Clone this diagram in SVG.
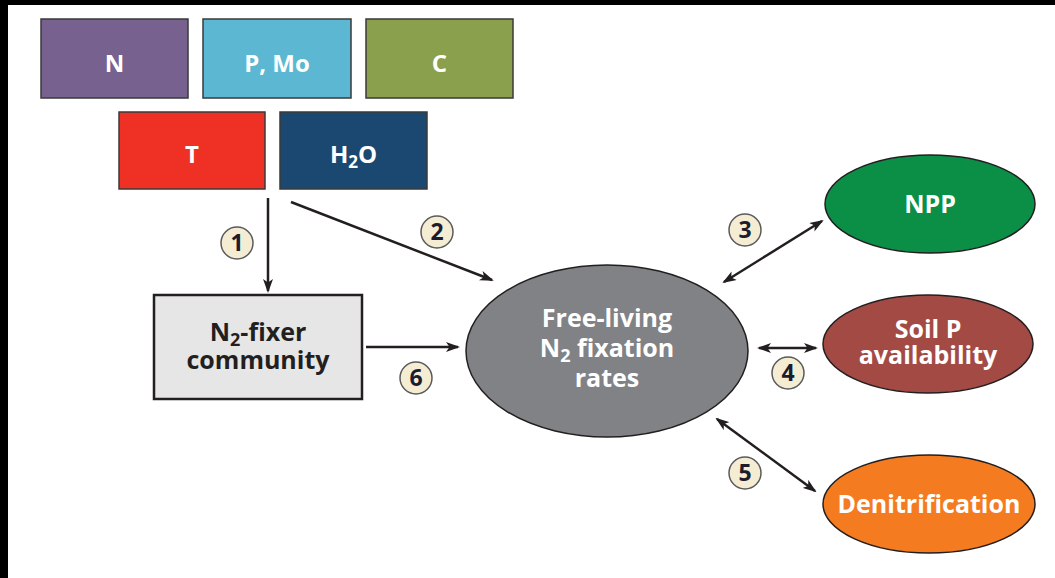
<svg xmlns="http://www.w3.org/2000/svg" width="1055" height="578" viewBox="0 0 1055 578">
<style>
.lbl{font-family:"Open Sans","Liberation Sans",sans-serif;font-weight:700;text-anchor:middle;}
.w{fill:#ffffff;font-size:25px;}
.tw{fill:#ffffff;font-size:24px;}
.dk{fill:#231f20;font-size:25px;}
.box{stroke:#3a3a3a;stroke-width:1.5;}
.ell{stroke:#231f20;stroke-width:1.5;}
.con{stroke:#231f20;stroke-width:2.5;fill:none;}
.num circle{fill:#f4edd3;stroke:#5a5a5a;stroke-width:1.5;}
.num text{font-family:"Open Sans","Liberation Sans",sans-serif;font-weight:700;font-size:23px;fill:#1c1c2e;text-anchor:middle;}
</style>
<defs>
<marker id="ah" viewBox="0 0 14 10" refX="12" refY="5" markerWidth="14" markerHeight="10" markerUnits="userSpaceOnUse" orient="auto-start-reverse">
<path d="M0,0 L14,5 L0,10 L3.5,5 Z" fill="#231f20"/>
</marker>
</defs>
<rect x="0" y="0" width="1055" height="578" fill="#ffffff"/>
<rect x="0" y="0" width="1055" height="5" fill="#000000"/>
<rect x="0" y="0" width="8" height="578" fill="#000000"/>

<g id="node-N"><rect class="box" x="41" y="19" width="147" height="79" fill="#77628f"/><text class="lbl tw" x="114.5" y="72">N</text></g>
<g id="node-PMo"><rect class="box" x="203" y="19" width="148" height="79" fill="#5cb8d2"/><text class="lbl tw" x="277" y="72">P, Mo</text></g>
<g id="node-C"><rect class="box" x="366" y="19" width="147" height="79" fill="#8aa04d"/><text class="lbl tw" x="439.5" y="72">C</text></g>
<g id="node-T"><rect class="box" x="119" y="112" width="146" height="77" fill="#ee3124"/><text class="lbl tw" x="192" y="163">T</text></g>
<g id="node-H2O"><rect class="box" x="280" y="112" width="147" height="77" fill="#1a4870"/><text class="lbl tw" x="353.5" y="163">H<tspan font-size="17" dy="5">2</tspan><tspan dy="-5">O</tspan></text></g>

<g id="node-fixer"><rect x="154" y="295" width="208" height="104" fill="#e6e6e6" stroke="#231f20" stroke-width="2.5"/>
<text class="lbl dk" x="258" y="341">N<tspan font-size="18" dy="5">2</tspan><tspan dy="-5">-fixer</tspan></text>
<text class="lbl dk" x="258" y="369">community</text></g>

<g id="node-rates"><ellipse class="ell" cx="607" cy="351" rx="141" ry="86" fill="#808285"/>
<text class="lbl w" x="607" y="327">Free-living</text>
<text class="lbl w" x="607" y="357">N<tspan font-size="18" dy="5">2</tspan><tspan dy="-5"> fixation</tspan></text>
<text class="lbl w" x="607" y="387">rates</text></g>

<g id="node-NPP"><ellipse class="ell" cx="930" cy="204" rx="105" ry="49" fill="#0b8f46"/><text class="lbl w" x="930" y="213">NPP</text></g>
<g id="node-soilP"><ellipse class="ell" cx="928" cy="344" rx="105" ry="49" fill="#a34a45"/>
<text class="lbl w" x="928" y="338">Soil P</text><text class="lbl w" x="928" y="364">availability</text></g>
<g id="node-denit"><ellipse class="ell" cx="929" cy="504" rx="106" ry="49" fill="#f47b20"/><text class="lbl w" x="929" y="513">Denitrification</text></g>

<g id="connectors">
<line class="con" x1="268" y1="198" x2="268" y2="291" marker-end="url(#ah)"/>
<line class="con" x1="291" y1="202" x2="492" y2="280" marker-end="url(#ah)"/>
<line class="con" x1="724" y1="282" x2="822" y2="221" marker-start="url(#ah)" marker-end="url(#ah)"/>
<line class="con" x1="759" y1="348" x2="816" y2="348" marker-start="url(#ah)" marker-end="url(#ah)"/>
<line class="con" x1="717" y1="419" x2="815" y2="491" marker-start="url(#ah)" marker-end="url(#ah)"/>
<line class="con" x1="366" y1="347" x2="458" y2="347" marker-end="url(#ah)"/>
</g>

<g id="labels">
<g class="num"><circle cx="237" cy="243" r="16"/><text x="237" y="251">1</text></g>
<g class="num"><circle cx="437" cy="232" r="16"/><text x="437" y="240">2</text></g>
<g class="num"><circle cx="745" cy="230" r="16"/><text x="745" y="238">3</text></g>
<g class="num"><circle cx="788" cy="373" r="16"/><text x="788" y="381">4</text></g>
<g class="num"><circle cx="745" cy="473" r="16"/><text x="745" y="481">5</text></g>
<g class="num"><circle cx="416" cy="378" r="16"/><text x="416" y="386">6</text></g>
</g>
</svg>
